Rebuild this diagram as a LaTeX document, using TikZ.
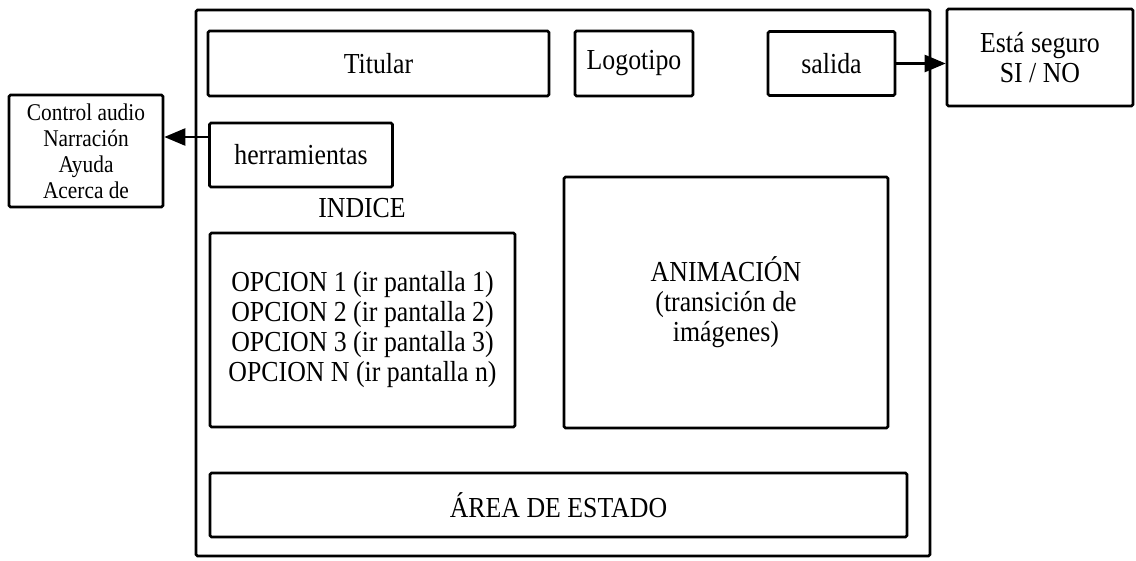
\documentclass[tikz,border=0pt]{standalone}
\usepackage{fontspec}
\setmainfont{Liberation Serif}
\newfontfamily\tnr[FakeStretch=0.89]{Liberation Serif}
\usetikzlibrary{arrows.meta}
\begin{document}
\begin{tikzpicture}[x=1pt,y=-1pt,
  box/.style={draw, line width=2.6pt, rounded corners=1.5pt, inner sep=0pt, align=center, font=\tnr\fontsize{29}{30}\selectfont},
  small/.style={font=\tnr\fontsize{24}{26}\selectfont},
  lbl/.style={inner sep=0pt, align=center, font=\tnr\fontsize{29}{30}\selectfont},
  conn/.style={line width=2.4pt, -{Triangle[length=21pt,width=17pt]}}]
\useasboundingbox (0,0) rectangle (1136,560);
\node[box, minimum width=734, minimum height=546] (frame) at (563,283) {};
\node[box, minimum width=341, minimum height=65] (tit) at (378.5,63.5) {Titular};
\node[box, minimum width=118, minimum height=65] (logo) at (634,63.5) {Logotipo};
\node[box, minimum width=127, minimum height=64] (sal) at (831.5,63.5) {salida};
\node[box, minimum width=186, minimum height=97] (seg) at (1040,57.5) {Está seguro\\SI / NO};
\node[box, small, minimum width=154, minimum height=112] (ctrl) at (86,151) {Control audio\\Narración\\Ayuda\\Acerca de};
\node[box, minimum width=183, minimum height=64] (herr) at (301,155) {herramientas};
\node[lbl] (ind) at (362,208) {INDICE};
\node[box, minimum width=305, minimum height=194] (opt) at (362.5,330) {OPCION 1 (ir pantalla 1)\\OPCION 2 (ir pantalla 2)\\OPCION 3 (ir pantalla 3)\\OPCION N (ir pantalla n)};
\node[box, minimum width=324, minimum height=251] (anim) at (726,302.5) {ANIMACIÓN\\(transición de\\imágenes)};
\node[box, minimum width=697, minimum height=64] (area) at (558.5,505) {ÁREA DE ESTADO};
\draw[conn] (sal.east) -- (sal.east -| seg.west);
\draw[conn] ([yshift=18pt]herr.west) coordinate (hs) -- (hs -| ctrl.east);
\end{tikzpicture}
\end{document}
